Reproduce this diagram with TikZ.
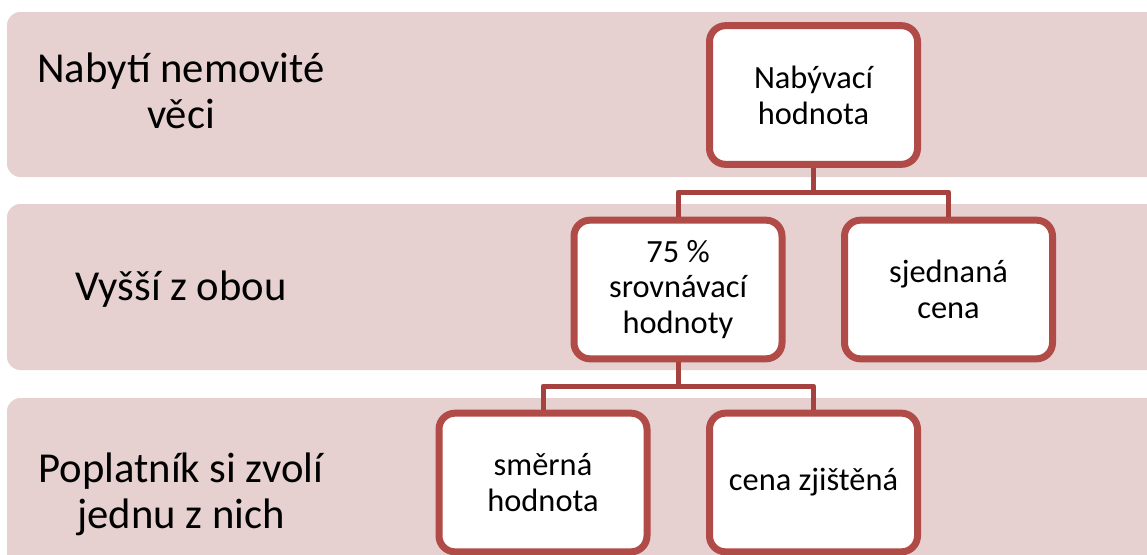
\documentclass[tikz,border=0pt]{standalone}
\usepackage{fontspec}
\setmainfont{Carlito}
\usetikzlibrary{shadows}
\definecolor{bandfill}{RGB}{231,208,208}
\definecolor{boxline}{RGB}{177,75,72}
\definecolor{connline}{RGB}{165,66,63}
\begin{document}
\begin{tikzpicture}[x=0.75pt,y=-0.75pt,
  band/.style={fill=bandfill, rounded corners=10pt},
  lbl/.style={font=\fontsize{32}{34.5}\selectfont, align=center, text=black, inner sep=0pt},
  cbox/.style={draw=boxline, line width=5.25pt, fill=white, rounded corners=12pt,
    minimum width=156pt, minimum height=104pt, align=center, inner sep=0pt,
    font=\fontsize{24.3}{26.8}\selectfont,
    drop shadow={opacity=0.22, shadow xshift=1.5pt, shadow yshift=-2pt}},
  conn/.style={draw=connline, line width=3.75pt, line join=round}
]
\useasboundingbox (0,0) rectangle (1147,554);
\clip (0,0) rectangle (1147,554);
% bands
\fill[band] (7,12) rectangle (1170,177);
\fill[band] (7,204) rectangle (1170,370);
\fill[band] (7,398) rectangle (1170,590);
% left labels
\node[lbl] (l1) at (181,91) {Nabytí nemovité\\věci};
\node[lbl] (l2) at (181,289) {Vyšší z obou};
\node[lbl] (l3) at (181,494) {Poplatník si zvolí\\jednu z nich};
% junction points
\coordinate (j1) at (813.5,192);
\coordinate (j2) at (678,386);
% boxes
\node[cbox] (top) at (813.5,95) {Nabývací\\hodnota};
\node[cbox] (c75) at (678,289.5) {75 \%\\srovnávací\\hodnoty};
\node[cbox] (sjed) at (948.5,289.5) {sjednaná\\cena};
\node[cbox] (smer) at (543,482.5) {směrná\\hodnota};
\node[cbox] (cena) at (813.5,482.5) {cena zjištěná};
% connectors
\draw[conn] (top.south) -- (j1) -| (c75.north);
\draw[conn] (j1) -| (sjed.north);
\draw[conn] (c75.south) -- (j2) -| (smer.north);
\draw[conn] (j2) -| (cena.north);
\end{tikzpicture}
\end{document}
